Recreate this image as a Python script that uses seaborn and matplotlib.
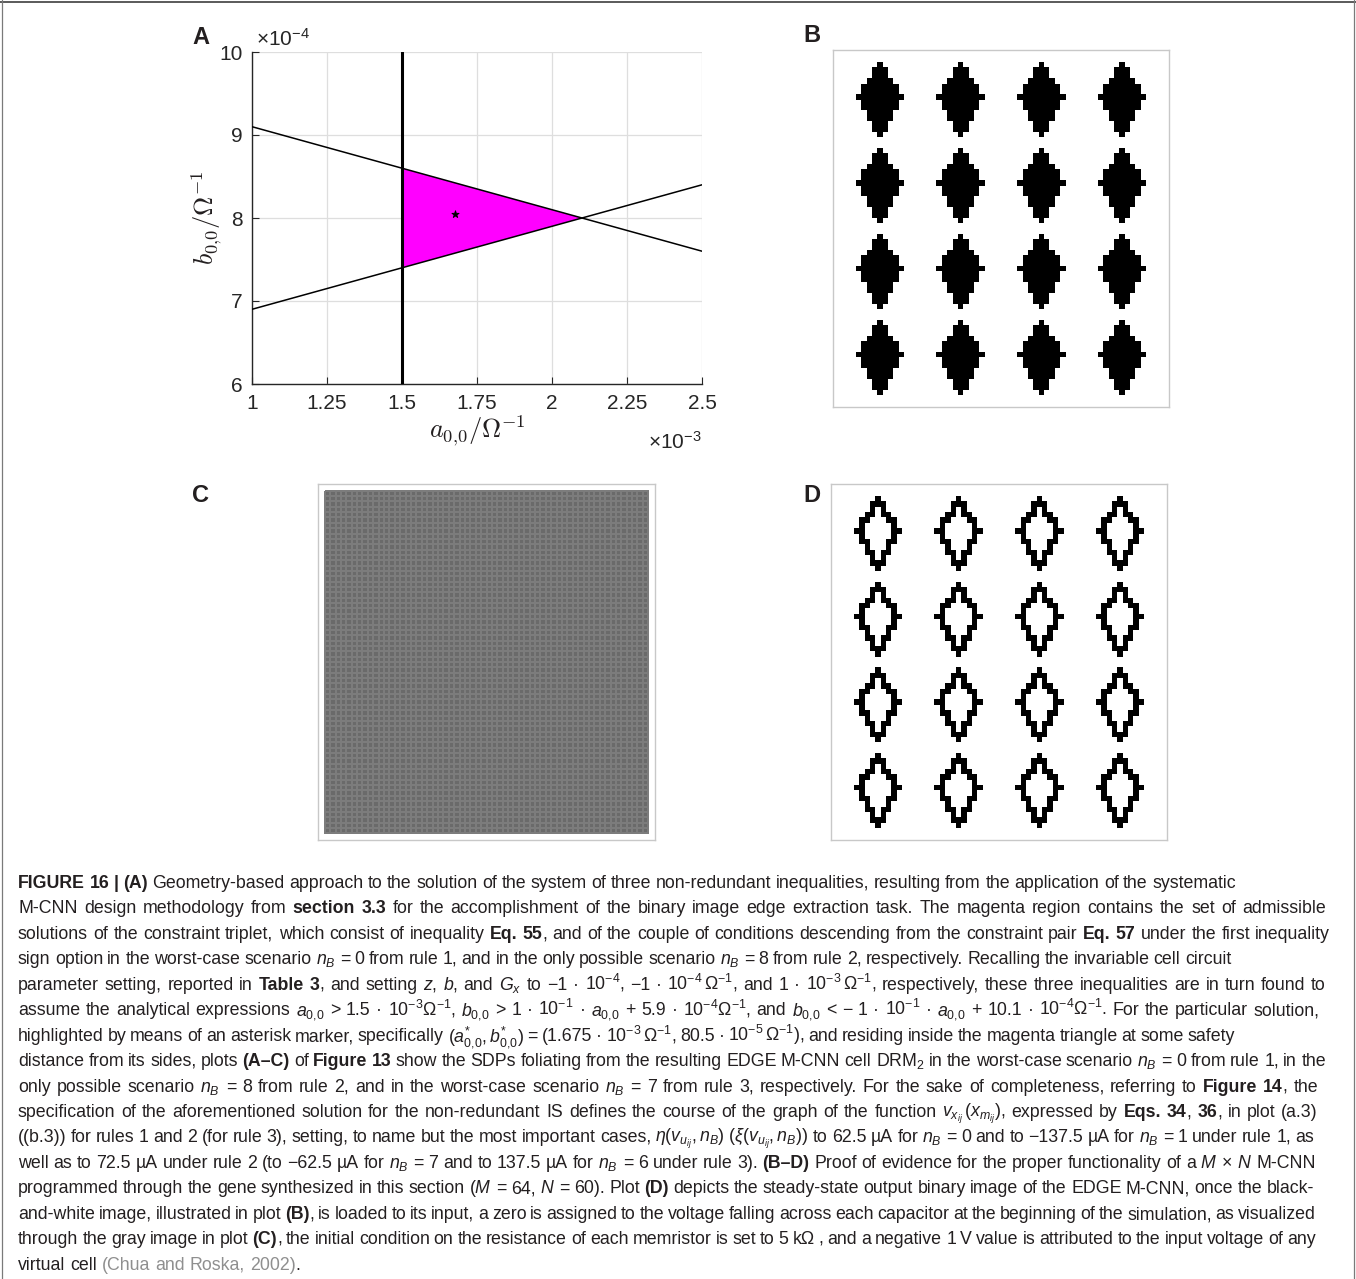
import numpy as np
import matplotlib
matplotlib.use("Agg")
import matplotlib.pyplot as plt
from matplotlib.colors import LinearSegmentedColormap
from matplotlib.lines import Line2D
from matplotlib import font_manager as fm
import seaborn as sns

# ---------------- data ----------------
# Panel A (a in units of 1e-3 Ohm^-1, b in units of 1e-4 Ohm^-1)
a_limits = [1.0, 2.5]
b_limits = [6.0, 10.0]
a_ticks = [1.0, 1.25, 1.5, 1.75, 2.0, 2.25, 2.5]
b_ticks = [6, 7, 8, 9, 10]
line_a = [1.0, 2.5]
upper_b = [9.1, 7.6]          # b < -0.1 a + 10.1e-4
lower_b = [6.9, 8.4]          # b >  0.1 a + 5.9e-4
vert_a = [1.5, 1.5]           # a > 1.5e-3
vert_b = [6.0, 10.0]
tri_a = [1.5, 1.5, 2.1]
tri_b = [8.6, 7.4, 8.0]
sol_a = [1.675]
sol_b = [8.05]

# Panels B-D : M x N binary images (+1 black, -1 white, 0 grey)
M_ROWS, N_COLS = 64, 60
diamond_half_widths = [0, 1, 1, 2, 3, 3, 4, 3, 3, 2, 2, 1, 1, 0]
diamond_top_rows = [1, 17, 33, 49]
diamond_center_cols = [7, 22, 37, 52]
initial_state_value = 0.0

input_img = -np.ones((M_ROWS, N_COLS))
for r0 in diamond_top_rows:
    for c in diamond_center_cols:
        for i, h in enumerate(diamond_half_widths):
            input_img[r0 + i, c - h:c + h + 1] = 1.0

black = input_img > 0
pad = np.pad(black, 1, constant_values=False)
interior = np.ones_like(black)
for dr in (-1, 0, 1):
    for dc in (-1, 0, 1):
        interior &= pad[1 + dr:1 + dr + M_ROWS, 1 + dc:1 + dc + N_COLS]
output_img = np.where(black & ~interior, 1.0, -1.0)
state_img = np.full((M_ROWS, N_COLS), initial_state_value)

# ---------------- style ----------------
sns.set_style("white")


def has_font(name):
    try:
        fm.findfont(fm.FontProperties(family=name), fallback_to_default=False)
        return True
    except Exception:
        return False


CAP_FONT = "Liberation Sans Narrow" if has_font("Liberation Sans Narrow") else "Liberation Sans"
plt.rcParams["font.family"] = ["Liberation Sans", "DejaVu Sans"]
plt.rcParams["mathtext.fontset"] = "custom"
plt.rcParams["mathtext.rm"] = CAP_FONT
plt.rcParams["mathtext.it"] = CAP_FONT + ":italic"
plt.rcParams["mathtext.bf"] = CAP_FONT + ":bold"

W, H = 1356, 1279
fig = plt.figure(figsize=(W / 100, H / 100), dpi=100)


def rect(l, t, r, b):
    return [l / W, 1 - b / H, (r - l) / W, (b - t) / H]


TXT = "#231f20"
AXC = "#262626"

# ---------------- Panel A ----------------
axA = fig.add_axes(rect(252, 52, 702, 384))
axA.fill(tri_a, tri_b, color="#ff00ff", lw=0, zorder=2)
sns.lineplot(x=line_a, y=upper_b, estimator=None, sort=False, color="black", lw=1.1, ax=axA, zorder=3)
sns.lineplot(x=line_a, y=lower_b, estimator=None, sort=False, color="black", lw=1.1, ax=axA, zorder=3)
sns.lineplot(x=vert_a, y=vert_b, estimator=None, sort=False, color="black", lw=2.2, ax=axA, zorder=3)
sns.scatterplot(x=sol_a, y=sol_b, marker="*", s=30, color="black", edgecolor="black", linewidth=0.6, ax=axA, zorder=4)
axA.set_xlim(a_limits)
axA.set_ylim(b_limits)
axA.set_xticks(a_ticks)
axA.set_yticks(b_ticks)
axA.set_xticklabels([f"{v:g}" for v in a_ticks])
axA.set_yticklabels([f"{v:g}" for v in b_ticks])
axA.grid(True, color="#dedede", lw=0.9, zorder=0)
axA.set_axisbelow(True)
for s in ["top", "right"]:
    axA.spines[s].set_visible(False)
for s in ["left", "bottom"]:
    axA.spines[s].set_color(AXC)
    axA.spines[s].set_linewidth(1.0)
axA.tick_params(axis="both", direction="in", length=5, width=0.8, colors=AXC, labelsize=15,
                top=False, right=False, left=True, bottom=True, pad=7)
axA.set_xlabel(r"$a_{0{,}0}/\Omega^{-1}$", fontsize=19, color=TXT, math_fontfamily="cm", labelpad=1)
axA.set_ylabel(r"$b_{0{,}0}/\Omega^{-1}$", fontsize=19, color=TXT, math_fontfamily="cm", labelpad=-4)
fig.text(256 / W, 1 - 46 / H, r"$\times10^{-4}$", fontsize=15, color=AXC, ha="left", va="baseline")
fig.text(702 / W, 1 - 449 / H, r"$\times10^{-3}$", fontsize=15, color=AXC, ha="right", va="baseline")

# ---------------- Panels B, C, D ----------------
bw_cmap = LinearSegmentedColormap.from_list("cnn", [(0.0, "white"), (0.5, "#6a6a6a"), (1.0, "black")])


def image_panel(box, data, **kw):
    ax = fig.add_axes(rect(*box))
    sns.heatmap(data, ax=ax, cmap=bw_cmap, vmin=-1, vmax=1, cbar=False,
                xticklabels=False, yticklabels=False, **kw)
    ax.set_xlim(-1.25, N_COLS + 1.25)
    ax.set_ylim(M_ROWS + 1.25, -1.25)
    for s in ax.spines.values():
        s.set_visible(True)
        s.set_color("#c8c8c8")
        s.set_linewidth(1.0)
    ax.set_xlabel("")
    ax.set_ylabel("")
    return ax


image_panel((833, 50, 1169, 407), input_img)
image_panel((318, 484, 655, 840), state_img, linewidths=0.15, linecolor="#7c7c7c")
image_panel((831, 484, 1167, 840), output_img)

# panel letters
for lab, x, y in [("A", 192, 37), ("B", 803, 35), ("C", 192, 496), ("D", 803, 495)]:
    fig.text(x / W, 1 - y / H, lab, fontsize=17, fontweight="bold", color=TXT, ha="left", va="center",
             family="Liberation Sans")

# ---------------- frame ----------------
FR = "#7a7a7a"
fig.add_artist(Line2D([0, 1], [1 - 1.5 / H, 1 - 1.5 / H], transform=fig.transFigure, color="#5a5a5a", lw=1.4))
fig.add_artist(Line2D([2 / W, 2 / W], [0, 1], transform=fig.transFigure, color=FR, lw=0.9))
fig.add_artist(Line2D([1354 / W, 1354 / W], [0, 1], transform=fig.transFigure, color=FR, lw=0.9))

# ---------------- caption ----------------
caption_lines = [
    "**FIGURE 16 | (A)** Geometry-based approach to the solution of the system of three non-redundant inequalities, resulting from the application of the systematic",
    "M-CNN design methodology from **section 3.3** for the accomplishment of the binary image edge extraction task. The magenta region contains the set of admissible",
    "solutions of the constraint triplet, which consist of inequality **Eq. 55**, and of the couple of conditions descending from the constraint pair **Eq. 57** under the first inequality",
    "sign option in the worst-case scenario $n_B$ = 0 from rule 1, and in the only possible scenario $n_B$ = 8 from rule 2, respectively. Recalling the invariable cell circuit",
    "parameter setting, reported in **Table 3**, and setting $z$, $b$, and $G_x$ to −1 · $10^{-4}$, −1 · $10^{-4}\\,\\Omega^{-1}$, and 1 · $10^{-3}\\,\\Omega^{-1}$, respectively, these three inequalities are in turn found to",
    "assume the analytical expressions $a_{0{,}0}$ > 1.5 · $10^{-3}\\Omega^{-1}$, $b_{0{,}0}$ > 1 · $10^{-1}$ · $a_{0{,}0}$ + 5.9 · $10^{-4}\\Omega^{-1}$, and $b_{0{,}0}$ < − 1 · $10^{-1}$ · $a_{0{,}0}$ + 10.1 · $10^{-4}\\Omega^{-1}$. For the particular solution,",
    "highlighted by means of an asterisk marker, specifically $(a^{*}_{0{,}0},b^{*}_{0{,}0})$ = (1.675 · $10^{-3}\\,\\Omega^{-1}$, 80.5 · $10^{-5}\\,\\Omega^{-1}$), and residing inside the magenta triangle at some safety",
    "distance from its sides, plots **(A–C)** of **Figure 13** show the SDPs foliating from the resulting EDGE M-CNN cell DRM$_2$ in the worst-case scenario $n_B$ = 0 from rule 1, in the",
    "only possible scenario $n_B$ = 8 from rule 2, and in the worst-case scenario $n_B$ = 7 from rule 3, respectively. For the sake of completeness, referring to **Figure 14**, the",
    "specification of the aforementioned solution for the non-redundant IS defines the course of the graph of the function $v_{x_{ij}}\\,(x_{m_{ij}})$, expressed by **Eqs. 34**, **36**, in plot (a.3)",
    "((b.3)) for rules 1 and 2 (for rule 3), setting, to name but the most important cases, $\\eta(v_{u_{ij}},n_B)\\ (\\xi(v_{u_{ij}},n_B))$ to 62.5 µA for $n_B$ = 0 and to −137.5 µA for $n_B$ = 1 under rule 1, as",
    "well as to 72.5 µA under rule 2 (to −62.5 µA for $n_B$ = 7 and to 137.5 µA for $n_B$ = 6 under rule 3). **(B–D)** Proof of evidence for the proper functionality of a $M$ × $N$ M-CNN",
    "programmed through the gene synthesized in this section ($M$ = 64, $N$ = 60). Plot **(D)** depicts the steady-state output binary image of the EDGE M-CNN, once the black-",
    "and-white image, illustrated in plot **(B)**, is loaded to its input, a zero is assigned to the voltage falling across each capacitor at the beginning of the simulation, as visualized",
    "through the gray image in plot **(C)**, the initial condition on the resistance of each memristor is set to 5 kΩ , and a negative 1 V value is attributed to the input voltage of any",
    "virtual cell ##(Chua and Roska, 2002)##.",
]
caption_right = [1236, 1326, 1330, 1231, 1326, 1320, 1235, 1326, 1318, 1318, 1314, 1316, 1314, 1316, 1316, None]
CAP_X0 = 18
CAP_Y0 = 888
CAP_DY = 25.45
GRAY = "#8f8f8f"
MIN_SPACE = 0.7


def parse_line(s):
    words, cur = [], []
    state = {"buf": "", "bold": False, "gray": False}
    inmath = False

    def flush():
        if state["buf"]:
            cur.append((state["buf"], state["bold"], state["gray"]))
            state["buf"] = ""

    i = 0
    while i < len(s):
        ch = s[i]
        if ch == "$":
            inmath = not inmath
            state["buf"] += ch
            i += 1
            continue
        if not inmath and s.startswith("**", i):
            flush()
            state["bold"] = not state["bold"]
            i += 2
            continue
        if not inmath and s.startswith("##", i):
            flush()
            state["gray"] = not state["gray"]
            i += 2
            continue
        if not inmath and ch == " ":
            flush()
            if cur:
                words.append(list(cur))
                cur.clear()
            i += 1
            continue
        state["buf"] += ch
        i += 1
    flush()
    if cur:
        words.append(list(cur))
    return words


renderer = fig.canvas.get_renderer()


def pw(txt, bold, size):
    t = fig.text(0, 0, txt, fontsize=size, fontweight="bold" if bold else "normal", family=CAP_FONT)
    w = t.get_window_extent(renderer).width
    t.remove()
    return w


parsed = [parse_line(s) for s in caption_lines]

base = 12.0
sp_base = pw("a a", False, base) - pw("aa", False, base)
ratios = []
for words, right in zip(parsed, caption_right):
    if right is None:
        continue
    tot = sum(pw(p[0], p[1], base) for w in words for p in w) + MIN_SPACE * sp_base * (len(words) - 1)
    ratios.append(tot / (right - CAP_X0))
cap_size = min(13.5, base / max(ratios) * 0.995)

space_w = pw("a a", False, cap_size) - pw("aa", False, cap_size)
for k, (words, right) in enumerate(zip(parsed, caption_right)):
    y = round(CAP_Y0 + k * CAP_DY)
    widths = [[pw(p[0], p[1], cap_size) for p in w] for w in words]
    total = sum(sum(ws) for ws in widths)
    if right is not None and len(words) > 1:
        gap = (right - CAP_X0 - total) / (len(words) - 1)
    else:
        gap = space_w
    x = CAP_X0
    for w, ws in zip(words, widths):
        for (txt, bold, gray), wpx in zip(w, ws):
            fig.text(x / W, 1 - y / H, txt, fontsize=cap_size, fontweight="bold" if bold else "normal",
                     family=CAP_FONT, color=GRAY if gray else TXT, ha="left", va="baseline")
            x += wpx
        x += gap

fig.savefig("out.png", dpi=100, facecolor="white")
